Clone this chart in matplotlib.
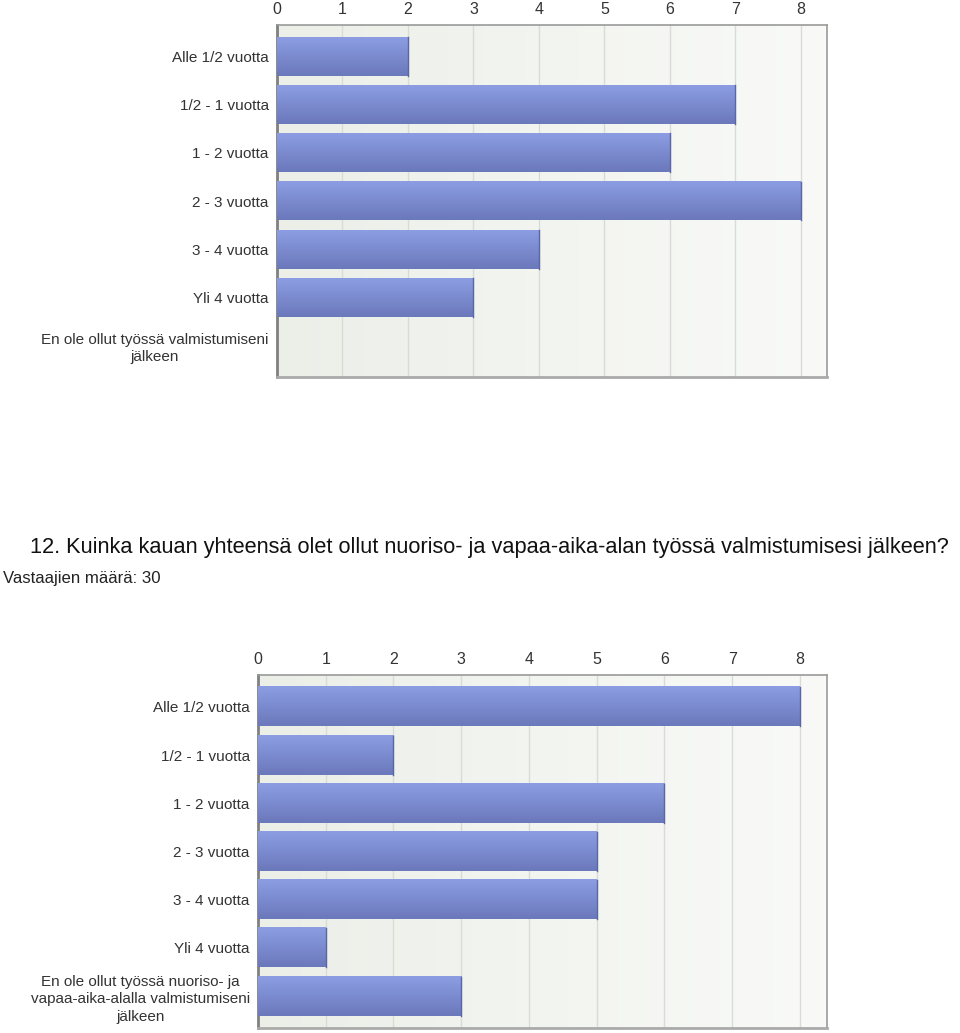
import numpy as np
import matplotlib.pyplot as plt
from matplotlib.colors import LinearSegmentedColormap

# data
cats_top = ['Alle 1/2 vuotta', '1/2 - 1 vuotta', '1 - 2 vuotta', '2 - 3 vuotta',
            '3 - 4 vuotta', 'Yli 4 vuotta', 'En ole ollut työssä valmistumiseni\njälkeen']
vals_top = [2, 7, 6, 8, 4, 3, 0]

cats_bot = ['Alle 1/2 vuotta', '1/2 - 1 vuotta', '1 - 2 vuotta', '2 - 3 vuotta',
            '3 - 4 vuotta', 'Yli 4 vuotta',
            'En ole ollut työssä nuoriso- ja\nvapaa-aika-alalla valmistumiseni\njälkeen']
vals_bot = [8, 2, 6, 5, 5, 1, 3]
ticks = list(range(0, 9))

title = '12. Kuinka kauan yhteensä olet ollut nuoriso- ja vapaa-aika-alan työssä valmistumisesi jälkeen?'
subtitle = 'Vastaajien määrä: 30'

plt.rcParams['font.family'] = ['Liberation Sans', 'DejaVu Sans']

fig = plt.figure(figsize=(9.6, 10.33), dpi=100)

bar_grad = np.linspace(0, 1, 64).reshape(-1, 1)
bar_cmap = LinearSegmentedColormap.from_list('bar', ['#8c9de3', '#6b79bb'])
bg_cmap = LinearSegmentedColormap.from_list('bg', ['#ecefe8', '#f9faf8'])


def draw(ax, cats, vals):
    n = len(cats)
    y = np.arange(n)
    # background gradient
    ax.imshow(np.linspace(0, 1, 128).reshape(1, -1), cmap=bg_cmap, aspect='auto',
              extent=[0, 1, 0, 1], transform=ax.transAxes, zorder=0)
    for t in ticks[1:]:
        ax.axvline(t, color='#d9dbd6', lw=1, zorder=1)
    bars = ax.barh(y, vals, height=0.81, color='#7a8ad0', zorder=2)
    for b in bars:
        if b.get_width() <= 0:
            continue
        x0, y0 = b.get_x(), b.get_y()
        ax.imshow(bar_grad, cmap=bar_cmap, aspect='auto', zorder=3,
                  extent=[x0, x0 + b.get_width(), y0 + b.get_height(), y0])
        ax.plot([x0 + b.get_width()] * 2, [y0, y0 + b.get_height()],
                color='#5a66a8', lw=1, zorder=4)
    ax.set_xlim(0, 8.4)
    ax.set_ylim(n - 1 + 0.66, -0.66)
    ax.set_yticks(y)
    ax.set_yticklabels(cats, multialignment='center', linespacing=1.3)
    ax.set_xticks(ticks)
    ax.xaxis.tick_top()
    ax.tick_params(axis='both', length=0, labelcolor='#333333')
    ax.tick_params(axis='x', pad=6, labelsize=11.5)
    ax.tick_params(axis='y', pad=6, labelsize=11)
    for s in ax.spines.values():
        s.set_color('#999999')
        s.set_linewidth(1.2)
    ax.spines['left'].set_color('#808080')
    ax.spines['left'].set_linewidth(2)
    ax.spines['bottom'].set_color('#aaaaaa')
    ax.spines['bottom'].set_linewidth(2)


ax1 = fig.add_axes([277 / 960, 1 - 377 / 1033, 550 / 960, 352 / 1033])
draw(ax1, cats_top, vals_top)

ax2 = fig.add_axes([258 / 960, 1 - 1028 / 1033, 569 / 960, 353 / 1033])
draw(ax2, cats_bot, vals_bot)

# fit the texts to the widths they have in the picture
renderer = fig.canvas.get_renderer()
def fit_text(x, y, s, width_px, size, color):
    t = fig.text(x / 960, 1 - y / 1033, s, fontsize=size, va='center', ha='left', color=color)
    w = t.get_window_extent(renderer).width
    t.set_fontsize(size * width_px / w)
    return t

fit_text(30, 547, title, 925, 16, '#111111')
fit_text(3, 578, subtitle, 157, 12, '#222222')

fig.savefig('out.png', dpi=100)
